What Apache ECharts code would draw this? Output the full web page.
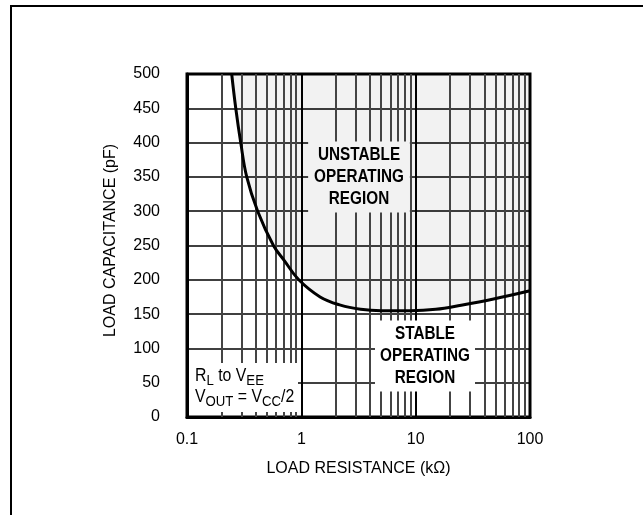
<!DOCTYPE html>
<html><head><meta charset="utf-8">
<script src="https://cdn.jsdelivr.net/npm/echarts@6/dist/echarts.min.js"></script>
<style>html,body{margin:0;padding:0;background:#fff}#c{width:643px;height:515px}</style>
</head><body><div id="c"></div>
<script>
// Load resistance (kΩ) vs. boundary load capacitance (pF)
const resistance  = [0.246, 0.267, 0.295, 0.333, 0.415, 0.57, 0.71, 0.95, 1.46, 2.2, 3.3, 5, 9, 15, 25, 48, 100];
const capacitance = [500,   450,   400,   350,   300,   250,  228,  200,  175,  163, 157, 155, 155, 157, 163, 172, 184];
const xMinorGrid = [0.2,0.3,0.4,0.5,0.6,0.7,0.8,0.9, 2,3,4,5,6,7,8,9, 20,30,40,50,60,70,80,90];
const xTickLabels = ['0.1','1','10','100'];
const yMin = 0, yMax = 500, yStep = 50;

const F = "'Liberation Sans',Arial,Helvetica,sans-serif";
const pts = resistance.map((r,i)=>[r, capacitance[i]]);

const chart = echarts.init(document.getElementById('c'), null, {renderer:'canvas'});
chart.setOption({
  animation:false,
  backgroundColor:'#fff',
  grid:{left:187, top:74, width:343, height:343, show:true, borderColor:'#000', borderWidth:3, backgroundColor:'transparent'},
  xAxis:{
    type:'log', logBase:10, min:0.1, max:100,
    name:'LOAD RESISTANCE (kΩ)', nameLocation:'middle', nameGap:44,
    nameTextStyle:{fontFamily:F, fontSize:16, color:'#000'},
    axisLine:{show:true, lineStyle:{color:'#000', width:3}},
    axisTick:{show:false},
    axisLabel:{margin:15, fontFamily:F, fontSize:16, color:'#000',
      formatter:(v)=>{const s=String(+v.toPrecision(3)); return xTickLabels.indexOf(s)>=0?s:'';}},
    splitLine:{show:true, lineStyle:{color:'#000', width:2}}
  },
  yAxis:{
    type:'value', min:yMin, max:yMax, interval:yStep,
    name:'LOAD CAPACITANCE (pF)', nameLocation:'middle', nameGap:68,
    nameTextStyle:{fontFamily:F, fontSize:16, color:'#000', padding:[0,0,0,10]},
    axisLine:{show:true, lineStyle:{color:'#000', width:3}},
    axisTick:{show:false},
    axisLabel:{margin:27, fontFamily:F, fontSize:16, color:'#000'},
    splitLine:{show:true, lineStyle:{color:'#000', width:1.5}}
  },
  series:[
    {
      type:'line', data:pts, smooth:0.4, showSymbol:false, silent:true, z:1,
      lineStyle:{width:0, opacity:0},
      areaStyle:{origin:'end', color:'rgba(0,0,0,0.05)', opacity:1},
      markLine:{silent:true, symbol:['none','none'], label:{show:false},
        lineStyle:{color:'#444', width:2, type:'solid'},
        data:xMinorGrid.map(v=>({xAxis:v}))}
    },
    {
      type:'line', data:pts, smooth:0.4, showSymbol:false, silent:true, z:5,
      lineStyle:{color:'#000', width:3}
    }
  ],
  graphic:[
    {type:'rect', z:100, silent:true, shape:{x:11, y:6, width:800, height:700},
      style:{fill:'none', stroke:'#000', lineWidth:2}},
    {type:'text', z:100, x:359, y:177, scaleX:0.85, silent:true,
      style:{text:'UNSTABLE\nOPERATING\nREGION', font:"bold 18px "+F, fill:'#000',
        align:'center', verticalAlign:'middle', lineHeight:22,
        backgroundColor:'#f2f2f2', padding:[2,7,3,7]}},
    {type:'text', z:100, x:425, y:356, scaleX:0.85, silent:true,
      style:{text:'STABLE\nOPERATING\nREGION', font:"bold 18px "+F, fill:'#000',
        align:'center', verticalAlign:'middle', lineHeight:22,
        backgroundColor:'#fff', padding:[2,6,3,6]}},
    {type:'rect', z:99, silent:true, shape:{x:189, y:363, width:109, height:49},
      style:{fill:'#fff', stroke:'none'}},
    {type:'text', z:100, x:195, y:366, scaleX:0.88, silent:true,
      style:{text:'{n|R}{s|L}{n| to V}{s|EE}\n{n|V}{s|OUT}{n| = V}{s|CC}{n|/2}',
        align:'left', verticalAlign:'top',
        rich:{
          n:{fontFamily:F, fontSize:18, lineHeight:21, fill:'#000'},
          s:{fontFamily:F, fontSize:15, lineHeight:21, fill:'#000', padding:[8,0,0,0]}
        }}}
  ]
});
</script></body></html>
